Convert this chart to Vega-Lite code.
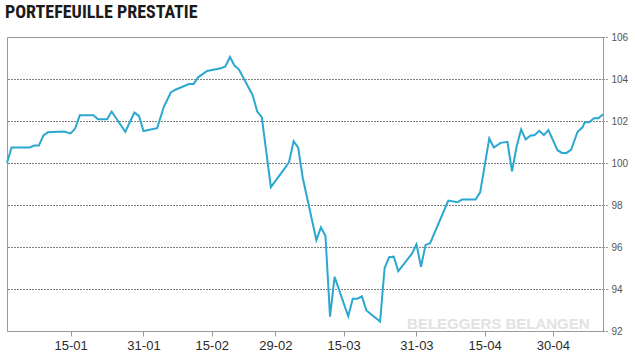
{
  "$schema": "https://vega.github.io/schema/vega-lite/v6.json",
  "autosize": {"type": "none"},
  "padding": {"left": 7, "top": 37, "right": 32, "bottom": 26},
  "width": 596,
  "height": 294,
  "background": "white",
  "title": {
    "text": "PORTEFEUILLE PRESTATIE",
    "anchor": "start",
    "frame": "group",
    "font": "'Roboto Condensed', 'DejaVu Sans Condensed', 'Liberation Sans', sans-serif",
    "fontWeight": "bold",
    "fontSize": 18,
    "color": "#1a1a1a",
    "baseline": "alphabetic",
    "offset": 14,
    "dx": -2,
    "dy": 18
  },
  "config": {
    "view": {"stroke": "#9a9a9a", "strokeWidth": 1},
    "axis": {"labelFont": "Liberation Sans", "titleFont": "Liberation Sans"}
  },
  "datasets": {
    "perf": [
      {"date": "2016-01-01T00:00:00Z", "value": 100.0},
      {"date": "2016-01-02T00:00:00Z", "value": 100.74},
      {"date": "2016-01-06T00:00:00Z", "value": 100.74},
      {"date": "2016-01-07T00:00:00Z", "value": 100.83},
      {"date": "2016-01-08T00:00:00Z", "value": 100.83},
      {"date": "2016-01-09T00:00:00Z", "value": 101.31},
      {"date": "2016-01-10T00:00:00Z", "value": 101.46},
      {"date": "2016-01-13T12:00:00Z", "value": 101.5},
      {"date": "2016-01-15T00:00:00Z", "value": 101.41},
      {"date": "2016-01-16T00:00:00Z", "value": 101.65},
      {"date": "2016-01-17T00:00:00Z", "value": 102.27},
      {"date": "2016-01-20T00:00:00Z", "value": 102.27},
      {"date": "2016-01-21T00:00:00Z", "value": 102.08},
      {"date": "2016-01-23T00:00:00Z", "value": 102.08},
      {"date": "2016-01-24T00:00:00Z", "value": 102.45},
      {"date": "2016-01-27T00:00:00Z", "value": 101.49},
      {"date": "2016-01-29T00:00:00Z", "value": 102.4},
      {"date": "2016-01-30T00:00:00Z", "value": 102.24},
      {"date": "2016-01-31T00:00:00Z", "value": 101.52},
      {"date": "2016-02-03T00:00:00Z", "value": 101.66},
      {"date": "2016-02-04T12:00:00Z", "value": 102.69},
      {"date": "2016-02-06T00:00:00Z", "value": 103.36},
      {"date": "2016-02-07T00:00:00Z", "value": 103.49},
      {"date": "2016-02-10T00:00:00Z", "value": 103.76},
      {"date": "2016-02-11T00:00:00Z", "value": 103.76},
      {"date": "2016-02-12T00:00:00Z", "value": 104.08},
      {"date": "2016-02-14T00:00:00Z", "value": 104.38},
      {"date": "2016-02-17T00:00:00Z", "value": 104.51},
      {"date": "2016-02-18T00:00:00Z", "value": 104.6},
      {"date": "2016-02-19T00:00:00Z", "value": 105.05},
      {"date": "2016-02-20T00:00:00Z", "value": 104.64},
      {"date": "2016-02-21T00:00:00Z", "value": 104.45},
      {"date": "2016-02-24T00:00:00Z", "value": 103.23},
      {"date": "2016-02-25T00:00:00Z", "value": 102.45},
      {"date": "2016-02-26T00:00:00Z", "value": 102.18},
      {"date": "2016-02-28T00:00:00Z", "value": 98.85},
      {"date": "2016-03-02T00:00:00Z", "value": 99.73},
      {"date": "2016-03-03T00:00:00Z", "value": 100.05},
      {"date": "2016-03-04T00:00:00Z", "value": 101.04},
      {"date": "2016-03-05T00:00:00Z", "value": 100.73},
      {"date": "2016-03-06T00:00:00Z", "value": 99.3},
      {"date": "2016-03-09T00:00:00Z", "value": 96.33},
      {"date": "2016-03-10T00:00:00Z", "value": 96.93},
      {"date": "2016-03-11T00:00:00Z", "value": 96.53},
      {"date": "2016-03-12T00:00:00Z", "value": 92.68},
      {"date": "2016-03-13T00:00:00Z", "value": 94.58},
      {"date": "2016-03-16T00:00:00Z", "value": 92.7},
      {"date": "2016-03-17T00:00:00Z", "value": 93.54},
      {"date": "2016-03-18T00:00:00Z", "value": 93.54},
      {"date": "2016-03-19T00:00:00Z", "value": 93.65},
      {"date": "2016-03-20T00:00:00Z", "value": 92.98},
      {"date": "2016-03-23T00:00:00Z", "value": 92.45},
      {"date": "2016-03-24T00:00:00Z", "value": 95.0},
      {"date": "2016-03-25T00:00:00Z", "value": 95.52},
      {"date": "2016-03-26T00:00:00Z", "value": 95.54},
      {"date": "2016-03-27T00:00:00Z", "value": 94.85},
      {"date": "2016-03-30T00:00:00Z", "value": 95.68},
      {"date": "2016-03-31T00:00:00Z", "value": 96.13},
      {"date": "2016-04-01T00:00:00Z", "value": 95.06},
      {"date": "2016-04-02T00:00:00Z", "value": 96.1},
      {"date": "2016-04-03T00:00:00Z", "value": 96.18},
      {"date": "2016-04-07T00:00:00Z", "value": 98.21},
      {"date": "2016-04-09T00:00:00Z", "value": 98.13},
      {"date": "2016-04-10T00:00:00Z", "value": 98.26},
      {"date": "2016-04-13T00:00:00Z", "value": 98.26},
      {"date": "2016-04-14T00:00:00Z", "value": 98.6},
      {"date": "2016-04-16T00:00:00Z", "value": 101.17},
      {"date": "2016-04-17T00:00:00Z", "value": 100.74},
      {"date": "2016-04-18T12:00:00Z", "value": 100.96},
      {"date": "2016-04-20T00:00:00Z", "value": 101.01},
      {"date": "2016-04-21T00:00:00Z", "value": 99.6},
      {"date": "2016-04-22T00:00:00Z", "value": 100.77},
      {"date": "2016-04-23T00:00:00Z", "value": 101.6},
      {"date": "2016-04-24T00:00:00Z", "value": 101.12},
      {"date": "2016-04-25T00:00:00Z", "value": 101.3},
      {"date": "2016-04-26T00:00:00Z", "value": 101.33},
      {"date": "2016-04-27T00:00:00Z", "value": 101.53},
      {"date": "2016-04-28T00:00:00Z", "value": 101.33},
      {"date": "2016-04-29T00:00:00Z", "value": 101.57},
      {"date": "2016-05-01T00:00:00Z", "value": 100.61},
      {"date": "2016-05-02T00:00:00Z", "value": 100.48},
      {"date": "2016-05-03T00:00:00Z", "value": 100.48},
      {"date": "2016-05-04T00:00:00Z", "value": 100.64},
      {"date": "2016-05-05T10:00:00Z", "value": 101.49},
      {"date": "2016-05-06T12:00:00Z", "value": 101.7},
      {"date": "2016-05-07T00:00:00Z", "value": 101.94},
      {"date": "2016-05-08T00:00:00Z", "value": 101.94},
      {"date": "2016-05-09T00:00:00Z", "value": 102.13},
      {"date": "2016-05-10T00:00:00Z", "value": 102.13},
      {"date": "2016-05-11T00:00:00Z", "value": 102.32}
    ],
    "mark": [
      {"date": "2016-04-18T00:00:00Z", "value": 92.34, "label": "BELEGGERS BELANGEN"}
    ]
  },
  "encoding": {
    "x": {
      "field": "date",
      "type": "temporal",
      "title": null,
      "scale": {"type": "utc", "domain": ["2016-01-01T00:00:00Z", "2016-05-11T00:00:00Z"], "nice": false},
      "axis": {
        "values": [
          {"year": 2016, "month": 1, "date": 15, "utc": true},
          {"year": 2016, "month": 1, "date": 31, "utc": true},
          {"year": 2016, "month": 2, "date": 15, "utc": true},
          {"year": 2016, "month": 2, "date": 29, "utc": true},
          {"year": 2016, "month": 3, "date": 15, "utc": true},
          {"year": 2016, "month": 3, "date": 31, "utc": true},
          {"year": 2016, "month": 4, "date": 15, "utc": true},
          {"year": 2016, "month": 4, "date": 30, "utc": true}
        ],
        "labelExpr": "utcFormat(datum.value, '%d-%m')",
        "grid": false,
        "domainColor": "#9a9a9a",
        "tickColor": "#9a9a9a",
        "tickSize": 5,
        "labelFontSize": 13,
        "labelColor": "#2a2a2a",
        "labelPadding": 3
      }
    },
    "y": {
      "field": "value",
      "type": "quantitative",
      "title": null,
      "scale": {"domain": [92, 106], "nice": false, "zero": false},
      "axis": {
        "orient": "right",
        "values": [92, 94, 96, 98, 100, 102, 104, 106],
        "grid": true,
        "gridColor": "#000000",
        "gridDash": [1, 2],
        "gridOpacity": {"condition": {"test": "datum.value == 92 || datum.value == 106", "value": 0}, "value": 1},
        "domainColor": "#9a9a9a",
        "tickColor": "#333333",
        "tickDash": [1, 2],
        "tickSize": 5,
        "labelFontSize": 10,
        "labelColor": "#555555",
        "labelPadding": 3
      }
    }
  },
  "layer": [
    {
      "data": {"name": "mark"},
      "mark": {"type": "text", "font": "Liberation Sans", "fontWeight": "bold", "fontSize": 15, "color": "#e2e2e2", "align": "center", "baseline": "middle"},
      "encoding": {
        "text": {"field": "label"}
      }
    },
    {
      "data": {"name": "perf"},
      "mark": {"type": "line", "color": "#2aa8cf", "strokeWidth": 2, "strokeJoin": "miter"}
    }
  ]
}
